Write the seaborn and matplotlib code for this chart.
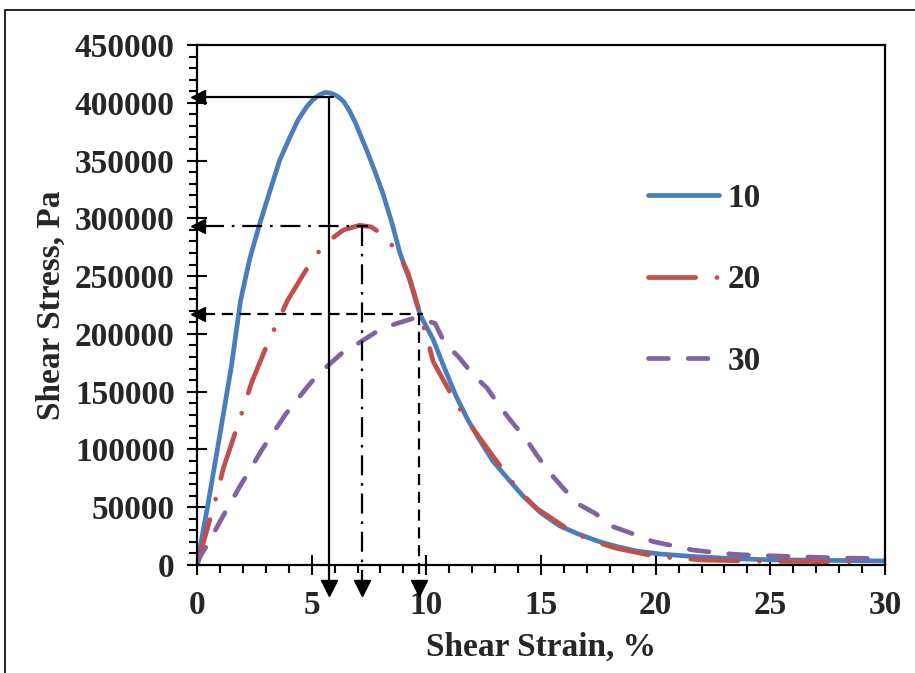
import numpy as np
import pandas as pd
import seaborn as sns
import matplotlib
matplotlib.use("Agg")
import matplotlib.pyplot as plt
from matplotlib.ticker import MultipleLocator, FuncFormatter
from matplotlib.patches import Rectangle

# ---------------- data ----------------
x10 = [0, 0.5, 1.0, 1.5, 1.9, 2.3, 2.7, 3.2, 3.6, 4.0, 4.4, 4.8, 5.0, 5.2, 5.4, 5.6, 5.8,
       6.0, 6.2, 6.4, 6.65, 6.9, 7.15, 7.4, 7.75, 8.1, 8.5, 8.85, 9.3, 9.72, 10.3, 10.8,
       11.3, 11.8, 12.3, 12.9, 13.5, 14.2, 15.0, 15.8, 16.6, 17.5, 18.3, 19.2, 20.2,
       21.9, 23.5, 25.0, 27.5, 30.0]
y10 = [0, 55000, 113000, 172000, 229000, 265000, 293000, 325000, 350000, 368000,
       385000, 397000, 401500, 405000, 407500, 409000, 408500, 407000, 404500, 401000,
       393000, 383000, 371000, 359000, 341000, 322000, 296000, 270000, 245000, 217000,
       195000, 170000, 146000, 126000, 109000, 90000, 76000, 60000, 45000, 34000,
       27000, 20500, 16000, 12000, 9500, 7000, 5500, 4500, 4000, 3500]

x20 = [0, 0.64, 0.9, 1.15, 1.73, 2.06, 2.38, 3.08, 3.52, 3.95, 4.93, 5.55, 6.38, 7.1,
       7.6, 8.12, 8.78, 9.21, 9.72, 10.02, 10.3, 11.18, 11.72, 12.34, 13.43, 14.05,
       14.81, 16.34, 17.25, 18.3, 20.1, 21.1, 22.1, 24.0, 26.5, 29.0]
y20 = [0, 44700, 63400, 83700, 118300, 137900, 157800, 191800, 210500, 229000,
       261000, 277500, 289900, 294000, 292500, 285600, 270300, 252400, 217800, 197000,
       176000, 144200, 127000, 109600, 79900, 64000, 49000, 28800, 20800, 14400, 7200,
       5800, 4300, 3500, 3000, 2800]

x30 = [0, 0.13, 0.49, 1.0, 1.37, 1.88, 2.31, 2.82, 3.26, 3.84, 4.35, 5.0, 5.58, 6.31,
       7.03, 7.83, 8.63, 9.58, 10.38, 10.81, 11.4, 12.05, 12.66, 13.21, 13.72, 14.38,
       14.81, 15.47, 15.97, 16.7, 17.36, 18.15, 18.95, 19.9, 20.6, 21.6, 22.5, 23.46,
       24.3, 25.3, 26.15, 27.1, 28.0, 29.0, 30.0]
y30 = [0, 7200, 18800, 37500, 50500, 68400, 82200, 99500, 112500, 129800, 142800,
       158600, 170200, 183200, 191800, 201900, 208500, 214300, 209100, 191800, 180300,
       164400, 152900, 137000, 124000, 108200, 95200, 77900, 66400, 51900, 44700,
       33100, 27400, 20200, 17300, 13000, 11000, 9200, 8400, 7800, 7200, 6600, 6000,
       5800, 5500]

series_labels = ["10", "20", "30"]
colors = ["#4a7ebb", "#c0504d", "#8064a2"]

# peak markers (strain %, stress Pa)
peak_strain = [5.75, 7.2, 9.7]
peak_stress = [405000, 293500, 217000]
peak_hline_end = [5.92, 7.46, 9.86]

xticks = [0, 5, 10, 15, 20, 25, 30]
yticks = [0, 50000, 100000, 150000, 200000, 250000, 300000, 350000, 400000, 450000]

# ---------------- style ----------------
sns.set_theme(style="white")
plt.rcParams["font.family"] = ["Liberation Serif", "DejaVu Serif"]
plt.rcParams["font.weight"] = "bold"
FS = 24

fig = plt.figure(figsize=(9.15, 6.73), dpi=100)
ax = fig.add_axes([197 / 915, 1 - 565 / 673, 688 / 915, 520 / 673])

lw = 3.4
styles = ["-", (0, (10, 4.5, 0.01, 4.5)), (0, (4.2, 4.2))]
for xs, ys, lab, c, ls in zip([x10, x20, x30], [y10, y20, y30], series_labels, colors, styles):
    df = pd.DataFrame({"x": xs, "y": ys})
    sns.lineplot(data=df, x="x", y="y", ax=ax, color=c, linewidth=lw, label=lab,
                 sort=False, estimator=None)
    line = ax.lines[-1]
    line.set_linestyle(ls)
    line.set_dash_capstyle("round")
    line.set_solid_capstyle("round")
    line.set_solid_joinstyle("round")
    line.set_dash_joinstyle("round")

ax.set_xlim(0, 30)
ax.set_ylim(0, 450000)
ymax = 450000

# ---------------- peak annotations ----------------
ann_styles = ["-", (0, (9, 3.5, 1.2, 3.5)), (0, (5, 3))]
depth = [0.040, 0.030, 0.030]
for px, py, hx, ls, d in zip(peak_strain, peak_stress, peak_hline_end, ann_styles, depth):
    ax.plot([0.3, hx], [py, py], color="black", lw=1.6, linestyle=ls, clip_on=False, zorder=5)
    ax.plot([px, px], [py, -d * ymax], color="black", lw=1.6, linestyle=ls, clip_on=False, zorder=5)
    ax.plot([0.05], [py], marker="<", ms=10, color="black", clip_on=False, zorder=6, lw=0)
    ax.plot([px], [-0.045 * ymax], marker="v", ms=11, color="black", clip_on=False, zorder=6, lw=0)

# ---------------- axes ----------------
ax.xaxis.set_minor_locator(MultipleLocator(1))
ax.yaxis.set_minor_locator(MultipleLocator(10000))
ax.set_xticks(xticks)
ax.set_yticks(yticks)
ax.yaxis.set_major_formatter(FuncFormatter(lambda v, p: f"{int(v)}"))
ax.tick_params(axis="both", which="major", direction="inout", length=14, width=1.5,
               labelsize=FS, color="black", bottom=True, left=True)
ax.tick_params(axis="x", which="major", pad=11)
ax.tick_params(axis="y", which="major", pad=9)
ax.tick_params(axis="both", which="minor", direction="out", length=6, width=1.5,
               color="black", bottom=True, left=True)
for lab in ax.get_xticklabels() + ax.get_yticklabels():
    lab.set_fontweight("bold")
for s in ax.spines.values():
    s.set_color("black")
    s.set_linewidth(1.6)

ax.set_xlabel("Shear Strain, %", fontsize=FS, fontweight="bold", labelpad=8)
ax.set_ylabel("Shear Stress, Pa", fontsize=FS, fontweight="bold", labelpad=6)

leg = ax.legend(loc="upper left", bbox_to_anchor=(0.655, 0.735), frameon=False,
                handlelength=2.15, handletextpad=0.25, labelspacing=1.52,
                borderpad=0, borderaxespad=0, prop={"weight": "bold", "size": FS})

# outer frame
fig.add_artist(Rectangle((5 / 915, -0.1), 1.2, 1.1 - 10 / 673, transform=fig.transFigure,
                         fill=False, lw=1.2, edgecolor="black"))

fig.savefig("out.png", dpi=100)
